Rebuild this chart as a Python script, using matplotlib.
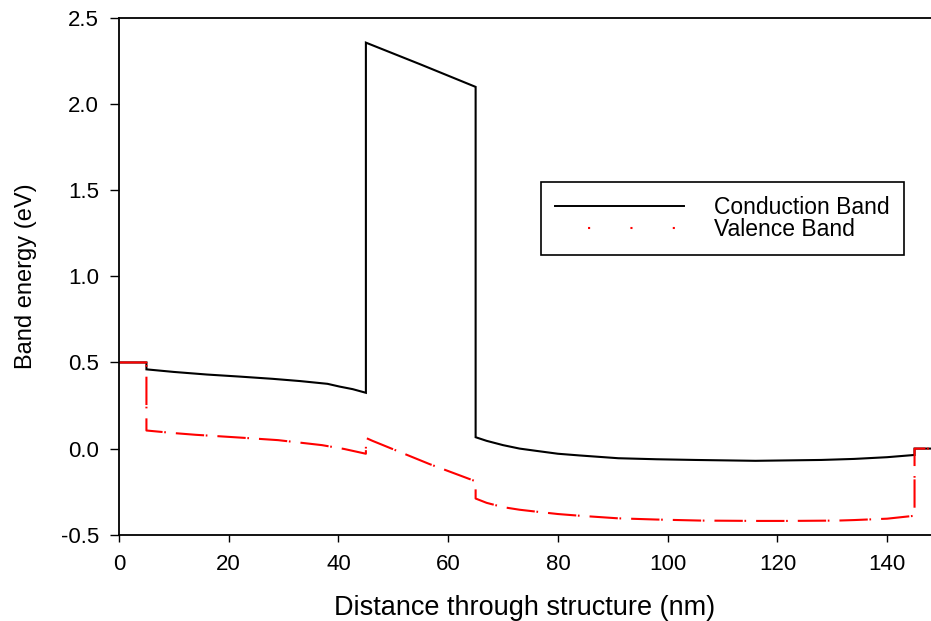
"""
Band diagram: conduction and valence band energy through the structure.
Saves out.png.
"""

import matplotlib
matplotlib.use("Agg")
import matplotlib.pyplot as plt
from matplotlib.lines import Line2D

plt.rcParams["font.family"] = ["Liberation Sans", "DejaVu Sans"]
plt.rcParams["lines.scale_dashes"] = False

# ---------------------------------------------------------------------------
# DATA
# ---------------------------------------------------------------------------
cb_x = [0, 5, 5, 10, 16, 22, 28, 33, 38, 40.2, 42.6, 45, 45, 55, 65, 65, 67, 70,
        73, 76, 80, 84, 91, 98, 105, 116, 128, 134, 140, 145, 145, 148]
cb_y = [0.5, 0.5, 0.46, 0.445, 0.43, 0.418, 0.405, 0.392, 0.376, 0.36, 0.345, 0.324,
        2.357, 2.23, 2.10, 0.066, 0.045, 0.02, 0.0, -0.013, -0.03, -0.04, -0.056,
        -0.062, -0.066, -0.071, -0.066, -0.06, -0.05, -0.037, 0.0, 0.0]

vb_x = [0, 5, 5, 10, 14, 22, 29, 37, 41, 45, 45, 46.2, 56.6, 65, 65, 67, 70, 73,
        76, 80, 84, 91, 98, 106, 116, 122, 131, 134, 140, 145, 145, 148]
vb_y = [0.5, 0.5, 0.105, 0.09, 0.08, 0.064, 0.049, 0.02, -0.002, -0.03, 0.062,
        0.045, -0.09, -0.19, -0.29, -0.315, -0.34, -0.355, -0.366, -0.38, -0.39,
        -0.405, -0.412, -0.418, -0.42, -0.42, -0.418, -0.415, -0.407, -0.39, 0.0, 0.0]

x_ticks = [0, 20, 40, 60, 80, 100, 120, 140]
y_ticks = [-0.5, 0.0, 0.5, 1.0, 1.5, 2.0, 2.5]

# ---------------------------------------------------------------------------
# PLOT
# ---------------------------------------------------------------------------
fig = plt.figure(figsize=(9.31, 6.21), dpi=100)
ax = fig.add_axes([119 / 931, 1 - 534.7 / 621, 1 - 119 / 931, (534.7 - 18) / 621])

ax.plot(cb_x, cb_y, color="black", linewidth=1.5, solid_joinstyle="miter")
ax.plot(vb_x, vb_y, color="red", linewidth=1.5,
        linestyle=(0, (20.4, 1.2, 1.2, 7.2)), dash_capstyle="butt")

ax.set_xlim(0, 148)
ax.set_ylim(-0.5, 2.5)
ax.set_xticks(x_ticks)
ax.set_yticks(y_ticks)
ax.set_yticklabels([f"{v:.1f}" for v in y_ticks])
ax.tick_params(direction="out", length=6.5, width=1.0, labelsize=16, pad=8)
ax.tick_params(axis="x", length=5, pad=9)

for side in ("left", "bottom", "top"):
    ax.spines[side].set_linewidth(1.3)
ax.spines["right"].set_visible(False)

ax.set_xlabel("Distance through structure (nm)", fontsize=19.5, labelpad=14)
ax.set_ylabel("Band energy (eV)", fontsize=17, labelpad=17)

handles = [
    Line2D([], [], color="black", linewidth=1.4),
    Line2D([], [], color="red", linewidth=1.5, linestyle=(6.7, (1.5, 29))),
]
leg = ax.legend(handles, ["Conduction Band", "Valence Band"],
                loc="upper left", bbox_to_anchor=(0.52, 0.6826), borderaxespad=0,
                fontsize=16.5, handlelength=5.63, handletextpad=1.31,
                labelspacing=-0.05, borderpad=0.61, fancybox=False,
                framealpha=1, edgecolor="black")
leg.get_frame().set_linewidth(1.2)

fig.savefig("out.png", dpi=100)
